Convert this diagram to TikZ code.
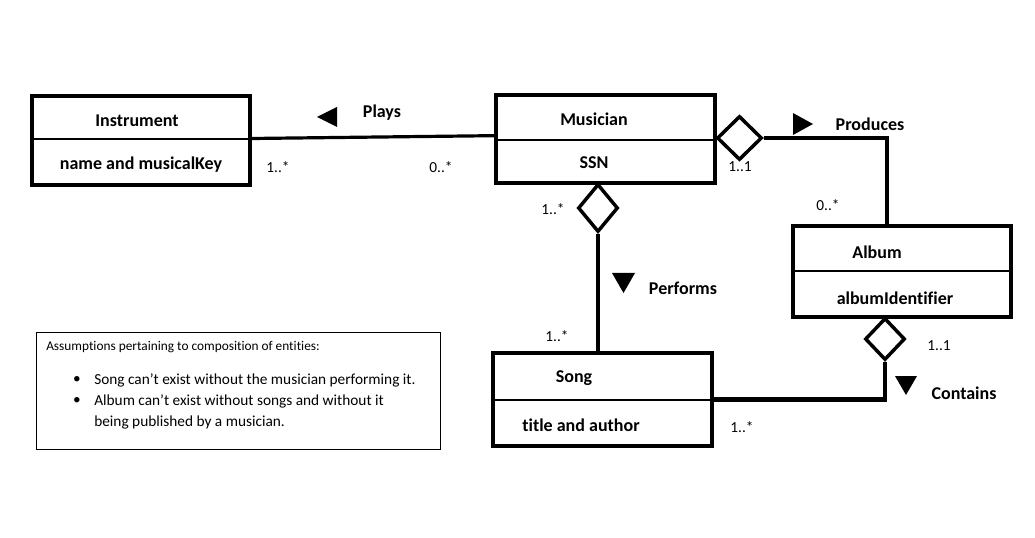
\documentclass[tikz,border=0pt]{standalone}
\usepackage{fontspec}
\setmainfont[Ligatures=NoCommon]{Carlito}
\usetikzlibrary{shapes.geometric}
\begin{document}
\begin{tikzpicture}[x=0.75pt,y=-0.75pt,
  cls/.style={draw, line width=2.4pt, rectangle, inner sep=0pt},
  divider/.style={line width=2pt},
  agg/.style={draw, diamond, line width=2.6pt, inner sep=0pt, fill=white},
  thinline/.style={line width=2.4pt},
  thickline/.style={line width=3.6pt},
  dirtri/.style={fill=black},
  title/.style={font=\fontsize{13.5}{16}\selectfont\bfseries, inner sep=0pt},
  mult/.style={font=\fontsize{11.5}{13}\selectfont, inner sep=0pt},
  note/.style={draw, line width=0.75pt, rectangle, inner sep=0pt}
]
\useasboundingbox (0,0) rectangle (1035,538);
\fill[white] (0,0) rectangle (1035,538);

% class boxes
\node[cls, minimum width=163.5pt, minimum height=66.75pt] (instr) at (141,140.5) {};
\node[cls, minimum width=164.25pt, minimum height=66pt] (mus) at (605.5,139) {};
\node[cls, minimum width=163.5pt, minimum height=68.25pt] (album) at (902,271.5) {};
\node[cls, minimum width=164.25pt, minimum height=69.75pt] (song) at (602.5,399.5) {};

% dividers
\draw[divider] (instr.west |- 0,139) -- (instr.east |- 0,139);
\draw[divider] (mus.west |- 0,140) -- (mus.east |- 0,140);
\draw[divider] (album.west |- 0,271) -- (album.east |- 0,271);
\draw[divider] (song.west |- 0,400) -- (song.east |- 0,400);

% class texts
\node[title] (tInstr) at (137,121) {Instrument};
\node[title] (aInstr) at (141,165) {name and musicalKey};
\node[title] (tMus) at (594,119) {Musician};
\node[title] (aMus) at (594,163) {SSN};
\node[title] (tAlb) at (877,252) {Album};
\node[title] (aAlb) at (895,298) {albumIdentifier};
\node[title] (tSong) at (574,378) {Song};
\node[title] (aSong) at (581,425) {title and author};

% diamonds
\node[agg, minimum width=33.75pt, minimum height=33pt] (d1) at (739.5,138) {};
\node[agg, minimum width=30pt, minimum height=36pt] (d2) at (598,208) {};
\node[agg, minimum width=30pt, minimum height=31.5pt] (d3) at (885,339) {};

% connectors
\draw[thinline] ([yshift=1.5pt]instr.east) -- ([yshift=2.5pt]mus.west);
\draw[thickline] (d1.east) -| ([xshift=-11.25pt]album.north);
\draw[thickline] (d2.south) -- (d2.south |- song.north);
\draw[thickline] (d3.south) |- (song.east);

% direction triangles
\fill[dirtri] (317,117) -- (337,107) -- (337,127) -- cycle;
\fill[dirtri] (813,124) -- (793,113) -- (793,135) -- cycle;
\fill[dirtri] (623.5,293) -- (612,273) -- (635,273) -- cycle;
\fill[dirtri] (906,395) -- (895,376) -- (917,376) -- cycle;

% labels
\node[title] (lPlays) at (382,113) {Plays};
\node[title] (lProd) at (870,124) {Produces};
\node[title] (lPerf) at (683,288) {Performs};
\node[title] (lCont) at (964,393) {Contains};

\node[mult] (m1) at (278,167) {1..*};
\node[mult] (m2) at (441,167) {0..*};
\node[mult] (m3) at (740,167) {1..1};
\node[mult] (m4) at (828,205) {0..*};
\node[mult] (m5) at (553,209) {1..*};
\node[mult] (m6) at (557,336) {1..*};
\node[mult] (m7) at (939,346) {1..1};
\node[mult] (m8) at (742,427) {1..*};

% note
\node[note, minimum width=303pt, minimum height=87.75pt] (notebox) at (238,390.5) {};
\node[anchor=west, inner sep=0pt, font=\fontsize{10}{12}\selectfont] (n0) at (46,347) {Assumptions pertaining to composition of entities:};
\node[inner sep=0pt, font=\fontsize{11.5}{13}\selectfont] (b1) at (77,380) {•};
\node[inner sep=0pt, font=\fontsize{11.5}{13}\selectfont] (b2) at (77,401) {•};
\node[anchor=west, inner sep=0pt, font=\fontsize{11.5}{13}\selectfont] (n1) at (94,380) {Song can’t exist without the musician performing it.};
\node[anchor=west, inner sep=0pt, font=\fontsize{11.5}{13}\selectfont] (n2) at (94,401) {Album can’t exist without songs and without it};
\node[anchor=west, inner sep=0pt, font=\fontsize{11.5}{13}\selectfont] (n3) at (94,422) {being published by a musician.};
\end{tikzpicture}
\end{document}
